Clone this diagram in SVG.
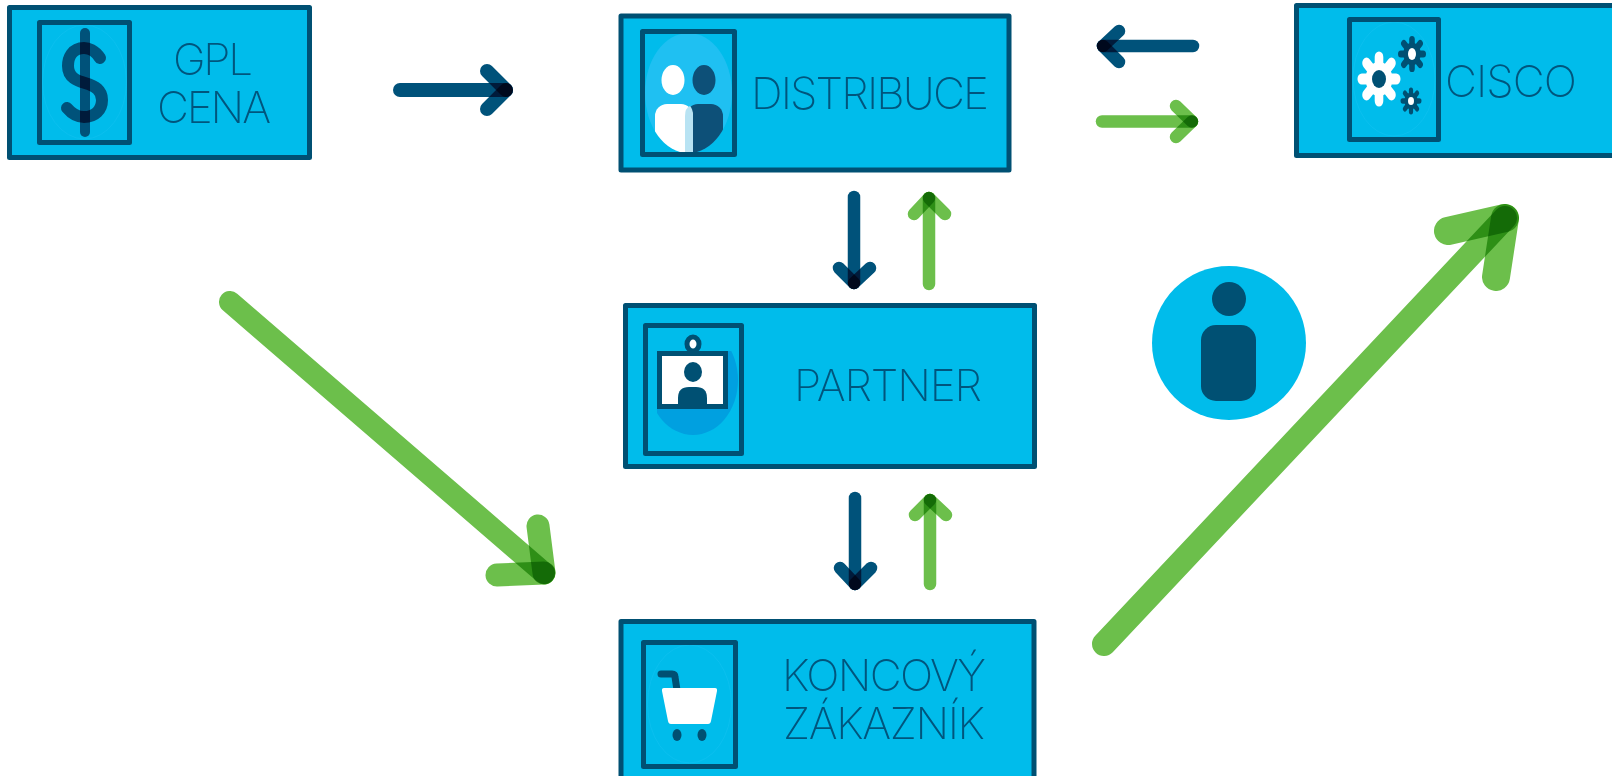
<svg xmlns="http://www.w3.org/2000/svg" width="1612" height="776" viewBox="0 0 1612 776">
<style>
.box{fill:#00bceb;stroke:#005073;stroke-width:5;stroke-linejoin:round}
.frame{fill:none;stroke:#005073;stroke-width:5;stroke-linejoin:round}
.halo{fill:none;stroke:#10c0ef;stroke-width:0.7}
.t{font-family:"Inter","Liberation Sans",sans-serif;font-weight:200;font-size:44px;fill:#00557d;text-anchor:middle}
.d{stroke:#00527a;fill:none;stroke-linecap:round;mix-blend-mode:multiply}
.g{stroke:#6cbf4b;fill:none;stroke-linecap:round;mix-blend-mode:multiply}
.iso{isolation:isolate}
.p{stroke-width:0.4;stroke-linecap:round;fill:none}
</style>
<defs>
<clipPath id="c1"><ellipse cx="688.5" cy="93" rx="43.5" ry="60"/></clipPath>
<clipPath id="c2"><rect x="657" y="351" width="90" height="100"/></clipPath>
<g id="gear">
<line class="p" x1="0" y1="-0.8" x2="0" y2="0.8"/>
<line class="p" x1="-0.8" y1="0" x2="0.8" y2="0"/>
<line class="p" x1="-0.58" y1="-0.58" x2="0.58" y2="0.58"/>
<line class="p" x1="-0.58" y1="0.58" x2="0.58" y2="-0.58"/>
<circle r="0.62" stroke="none"/>
</g>
</defs>
<rect width="1612" height="776" fill="#ffffff"/>

<g id="node-gpl">
<rect class="box" x="9.500" y="7.500" width="300" height="150"/>
<ellipse class="halo" cx="84.500" cy="82" rx="42" ry="57"/>
<rect class="frame" x="39.500" y="22.500" width="90" height="120"/>
<g class="iso">
<path class="d" stroke-width="12" d="M100 58C95 50 88 48 84 48C72 48 68 58 68 66C68 78 78 81 85 83C95 86 102 90 102 100C102 110 95 117 84 117C78 117 72 114 67 108"/>
<line class="d" stroke-width="10" x1="85" y1="33" x2="85" y2="132"/>
</g>
<text class="t" x="213" y="75" textLength="80">GPL</text>
<text class="t" x="214" y="123" textLength="114">CENA</text>
</g>

<g id="node-distribuce">
<rect class="box" x="621" y="16" width="388" height="154"/>
<ellipse cx="688.500" cy="93" rx="43.500" ry="60" fill="#1fc0f2"/>
<g clip-path="url(#c1)">
<ellipse cx="673" cy="80" rx="11.500" ry="15" fill="#ffffff"/>
<ellipse cx="704" cy="80" rx="11.500" ry="15" fill="#0d5078"/>
<rect x="686" y="104" width="37" height="60" rx="12" fill="#0d5078"/>
<rect x="655" y="104" width="38" height="60" rx="12" fill="#ffffff"/>
<path d="M685 116Q685 108 690 106Q693 109 693 116V160H685Z" fill="#b8e3f3"/>
</g>
<rect class="frame" x="642.500" y="31.500" width="92" height="123"/>
<text class="t" x="870" y="108.500" textLength="238">DISTRIBUCE</text>
</g>

<g id="node-cisco">
<rect class="box" x="1296.500" y="5.500" width="340" height="150"/>
<ellipse class="halo" cx="1394" cy="79" rx="41" ry="57"/>
<rect class="frame" x="1349.500" y="19.500" width="89" height="120"/>
<use href="#gear" transform="translate(1379 79) scale(21.500 27.500)" fill="#ffffff" stroke="#ffffff"/>
<ellipse cx="1379" cy="79" rx="7" ry="9" fill="#005073"/>
<use href="#gear" transform="translate(1412 54) scale(14 18)" fill="#005073" stroke="#005073"/>
<ellipse cx="1412" cy="54" rx="4" ry="6" fill="#ffffff"/>
<use href="#gear" transform="translate(1411 101) scale(10.500 13.500)" fill="#005073" stroke="#005073"/>
<ellipse cx="1411" cy="101" rx="3" ry="4" fill="#ffffff"/>
<text class="t" x="1511" y="96.500" textLength="132">CISCO</text>
</g>

<g id="node-partner">
<rect class="box" x="625.500" y="305.500" width="409" height="161"/>
<ellipse cx="693" cy="380" rx="45" ry="55" fill="#00a0e0" clip-path="url(#c2)"/>
<rect class="frame" x="645.500" y="325.500" width="96" height="128"/>
<ellipse cx="693" cy="344" rx="6" ry="7" fill="#ffffff" stroke="#005073" stroke-width="5"/>
<rect x="659.500" y="353.500" width="66" height="53" fill="#ffffff" stroke="#005073" stroke-width="5"/>
<ellipse cx="693" cy="372" rx="9" ry="10" fill="#005073"/>
<path d="M678 405V398Q678 387 689 387H696Q707 387 707 398V405Z" fill="#005073"/>
<text class="t" x="888" y="401" textLength="188">PARTNER</text>
</g>

<g id="node-koncovy">
<rect class="box" x="621" y="621.500" width="413" height="170"/>
<ellipse class="halo" cx="689.500" cy="704" rx="42" ry="59"/>
<rect class="frame" x="643.500" y="642.500" width="92" height="124"/>
<path d="M661 674H672Q675 674 675 677L677 690" fill="none" stroke="#005073" stroke-width="7" stroke-linecap="round"/>
<path d="M664 688H715Q717.500 688 717 691L711 721Q710.500 724 708 724H671Q668.500 724 668 721L662 691Q661.500 688 664 688Z" fill="#ffffff"/>
<ellipse cx="677" cy="735" rx="4.500" ry="6" fill="#005073"/>
<ellipse cx="702" cy="735" rx="4.500" ry="6" fill="#005073"/>
<text class="t" x="884" y="691" textLength="204">KONCOVÝ</text>
<text class="t" x="884" y="739" textLength="202">ZÁKAZNÍK</text>
</g>

<g id="node-person">
<circle cx="1229" cy="343" r="77" fill="#00bceb"/>
<circle cx="1229" cy="299" r="17" fill="#005073"/>
<rect x="1201" y="325" width="55" height="76" rx="15" fill="#005073"/>
</g>

<g id="connectors" class="iso">
<g stroke-width="14">
<line class="d" x1="400" y1="90" x2="506" y2="90"/>
<line class="d" x1="487" y1="71" x2="506" y2="90"/>
<line class="d" x1="487" y1="109" x2="506" y2="90"/>
</g>
<g stroke-width="12.500">
<line class="d" x1="1193" y1="46" x2="1103" y2="46"/>
<line class="d" x1="1119" y1="31" x2="1103" y2="46"/>
<line class="d" x1="1119" y1="62" x2="1103" y2="46"/>
<line class="g" x1="1102" y1="121.500" x2="1192" y2="121.500"/>
<line class="g" x1="1176" y1="106" x2="1192" y2="121.500"/>
<line class="g" x1="1176" y1="137" x2="1192" y2="121.500"/>
<line class="d" x1="854" y1="197" x2="854" y2="283"/>
<line class="d" x1="839" y1="268" x2="854" y2="283"/>
<line class="d" x1="870" y1="268" x2="854" y2="283"/>
<line class="g" x1="929" y1="284" x2="929" y2="198"/>
<line class="g" x1="914" y1="214" x2="929" y2="198"/>
<line class="g" x1="945" y1="214" x2="929" y2="198"/>
<line class="d" x1="855" y1="498" x2="855" y2="584"/>
<line class="d" x1="840" y1="568" x2="855" y2="584"/>
<line class="d" x1="871" y1="568" x2="855" y2="584"/>
<line class="g" x1="930" y1="584" x2="930" y2="500"/>
<line class="g" x1="915" y1="515" x2="930" y2="500"/>
<line class="g" x1="946" y1="515" x2="930" y2="500"/>
</g>
<g>
<line class="g" stroke-width="22" x1="230" y1="302" x2="544" y2="573"/>
<line class="g" stroke-width="23" x1="538" y1="526" x2="544" y2="573"/>
<line class="g" stroke-width="23" x1="497" y1="575" x2="544" y2="573"/>
<line class="g" stroke-width="24" x1="1104" y1="644" x2="1505" y2="218"/>
<line class="g" stroke-width="28" x1="1448" y1="231" x2="1505" y2="218"/>
<line class="g" stroke-width="28" x1="1496" y1="277" x2="1505" y2="218"/>
</g>
</g>
</svg>
